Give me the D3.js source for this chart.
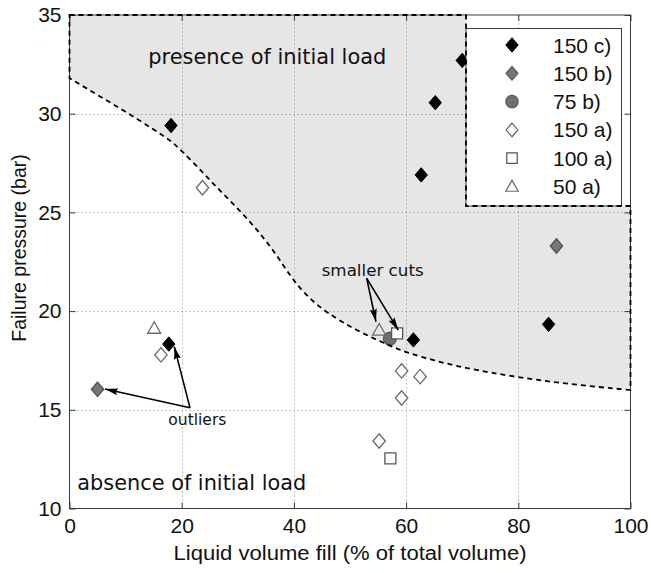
<!DOCTYPE html>
<html><head><meta charset="utf-8">
<script src="https://cdn.jsdelivr.net/npm/d3@7"></script>
<style>
html,body{margin:0;padding:0;background:#fff;}
svg{display:block;}
</style></head>
<body>
<svg id="chart" width="651" height="573"></svg>
<script>
// ---- data ----
const seriesNames = ["150 c)", "150 b)", "75 b)", "150 a)", "100 a)", "50 a)"];
const x150c = [18.1, 70.0, 65.2, 62.7, 17.7, 61.3, 85.4];
const y150c = [29.4, 32.7, 30.56, 26.9, 18.33, 18.54, 19.33];
const x150b = [5.0, 86.8];
const y150b = [16.04, 23.3];
const x75b = [57.1];
const y75b = [18.6];
const x150a = [23.7, 16.3, 59.2, 62.5, 59.2, 55.2];
const y150a = [26.25, 17.78, 16.97, 16.68, 15.6, 13.42];
const x100a = [57.2, 58.4];
const y100a = [12.54, 18.87];
const x50a = [15.1, 55.2];
const y50a = [19.13, 19.04];
// boundary curve between regions
const boundaryX = [0, 5, 10, 15, 17.9, 20, 23.85, 26.8, 30.7, 34.5, 37.5, 40, 42.9, 45.85, 51.2, 57.1, 60, 65, 70, 80, 90, 100];
const boundaryY = [31.8, 30.95, 30.1, 29.2, 28.67, 28.12, 27.0, 26.1, 25.0, 23.77, 22.6, 21.5, 20.6, 19.92, 19.0, 18.25, 17.9, 17.5, 17.14, 16.63, 16.27, 16.0];
const xTicks = [0, 20, 40, 60, 80, 100];
const yTicks = [10, 15, 20, 25, 30, 35];
const xLabel = "Liquid volume fill (% of total volume)";
const yLabel = "Failure pressure (bar)";

// ---- layout ----
const svg = d3.select("#chart");
const x = d3.scaleLinear().domain([0, 100]).range([69.5, 630.5]);
const y = d3.scaleLinear().domain([10, 35]).range([508.5, 15]);
const legBox = {x0: 466, x1: 621.5, y0: 28.5, y1: 206};

const seriesData = [
  {name: seriesNames[0], xs: x150c, ys: y150c, shape: "diamond", fill: "#000", stroke: "#000"},
  {name: seriesNames[1], xs: x150b, ys: y150b, shape: "diamond", fill: "#767676", stroke: "#555"},
  {name: seriesNames[2], xs: x75b, ys: y75b, shape: "circle", fill: "#707070", stroke: "#5a5a5a"},
  {name: seriesNames[3], xs: x150a, ys: y150a, shape: "diamond", fill: "#fff", stroke: "#6a6a6a"},
  {name: seriesNames[4], xs: x100a, ys: y100a, shape: "square", fill: "#fff", stroke: "#555"},
  {name: seriesNames[5], xs: x50a, ys: y50a, shape: "triangle", fill: "none", stroke: "#6a6a6a"}
];

function shapePath(shape) {
  if (shape === "diamond") return "M0,-7.2L6.2,0L0,7.2L-6.2,0Z";
  if (shape === "square") return "M-5.5,-5.5L5.5,-5.5L5.5,5.5L-5.5,5.5Z";
  if (shape === "triangle") return "M0,-6.5L6.5,5L-6.5,5Z";
  if (shape === "circle") return d3.symbol(d3.symbolCircle, 132)();
  return "";
}

// shaded region
const boundary = boundaryX.map((v, i) => [v, boundaryY[i]]);
const curveGen = d3.line().x(d => x(d[0])).y(d => y(d[1])).curve(d3.curveBasis);
const legLeft = x.invert(legBox.x0), legBottom = y.invert(legBox.y1);
const curveStr = curveGen(boundary.slice().reverse());
const regionPath = `M${x(0)},${y(35)}L${x(legLeft)},${y(35)}L${x(legLeft)},${y(legBottom)}L${x(100)},${y(legBottom)}L` +
  curveStr.slice(1) + "Z";
svg.append("path").attr("d", regionPath).attr("fill", "#e6e6e6").attr("stroke", "none");

// grid
const grid = svg.append("g").attr("stroke", "#8a8a8a").attr("stroke-width", 1).attr("stroke-dasharray", "1,3");
xTicks.slice(1, -1).forEach(t => grid.append("line").attr("x1", Math.round(x(t)) + 0.5).attr("x2", Math.round(x(t)) + 0.5).attr("y1", y(10)).attr("y2", y(35)));
yTicks.slice(1, -1).forEach(t => grid.append("line").attr("y1", Math.round(y(t)) + 0.5).attr("y2", Math.round(y(t)) + 0.5).attr("x1", x(0)).attr("x2", x(100)));

// axes frame
const frame = svg.append("g");
frame.append("rect").attr("x", x(0)).attr("y", y(35)).attr("width", x(100) - x(0)).attr("height", y(10) - y(35))
  .attr("fill", "none").attr("stroke", "#3a3a3a").attr("stroke-width", 1);
const xAxis = d3.axisBottom(x).tickValues(xTicks).tickSize(-6).tickPadding(10).tickFormat(d3.format("d"));
const yAxis = d3.axisLeft(y).tickValues(yTicks).tickSize(-6).tickPadding(8).tickFormat(d3.format("d"));
const gx = svg.append("g").attr("transform", `translate(0,${y(10)})`).call(xAxis);
const gy = svg.append("g").attr("transform", `translate(${x(0)},0)`).call(yAxis);
// mirrored ticks top/right
const gxt = svg.append("g").attr("transform", `translate(0,${y(35)})`).call(d3.axisTop(x).tickValues(xTicks).tickSize(-6).tickFormat(""));
const gyr = svg.append("g").attr("transform", `translate(${x(100)},0)`).call(d3.axisRight(y).tickValues(yTicks).tickSize(-6).tickFormat(""));
[gx, gy, gxt, gyr].forEach(g => {
  g.select(".domain").remove();
  g.selectAll(".tick line").attr("stroke", "#3a3a3a");
  g.selectAll(".tick text").attr("fill", "#111").attr("font-family", "Liberation Sans, Arial, sans-serif").attr("font-size", 21);
});
gx.selectAll(".tick text").attr("dy", "0.71em");

// data markers
const pts = svg.append("g");
seriesData.forEach(s => {
  s.xs.forEach((v, i) => {
    pts.append("path").attr("d", shapePath(s.shape))
      .attr("transform", `translate(${x(v)},${y(s.ys[i])})`)
      .attr("fill", s.fill).attr("stroke", s.stroke).attr("stroke-width", s.shape === "diamond" && s.fill === "#000" ? 1 : 1.3);
  });
});

// legend
const leg = svg.append("g");
leg.append("rect").attr("x", legBox.x0).attr("y", legBox.y0).attr("width", legBox.x1 - legBox.x0).attr("height", legBox.y1 - legBox.y0)
  .attr("fill", "#fff").attr("stroke", "#3a3a3a").attr("stroke-width", 1);
seriesData.forEach((s, i) => {
  const cy = 45 + i * 28.3;
  leg.append("path").attr("d", shapePath(s.shape)).attr("transform", `translate(512,${cy}) scale(0.95)`)
    .attr("fill", s.fill).attr("stroke", s.stroke).attr("stroke-width", 1.3);
  leg.append("text").attr("x", 553).attr("y", cy).attr("dy", "0.36em").text(s.name)
    .attr("font-family", "Liberation Sans, Arial, sans-serif").attr("font-size", 21).attr("fill", "#111");
});

// dashed outline of the region
svg.append("path").attr("d", regionPath).attr("fill", "none").attr("stroke", "#000")
  .attr("stroke-width", 1.8).attr("stroke-dasharray", "5,4");

// annotations
const defs = svg.append("defs");
defs.append("marker").attr("id", "ah").attr("viewBox", "0 -5 13 10").attr("refX", 13).attr("refY", 0)
  .attr("markerWidth", 13).attr("markerHeight", 10).attr("markerUnits", "userSpaceOnUse").attr("orient", "auto")
  .append("path").attr("d", "M0,-3.5L13,0L0,3.5L2,0Z").attr("fill", "#000");
const arrows = [
  [52.98, 21.66, 54.63, 19.46],
  [52.98, 21.66, 58.6, 19.04],
  [21.48, 15.1, 6.33, 16.05],
  [21.48, 15.1, 18.68, 18.2]
];
arrows.forEach(a => svg.append("line").attr("x1", x(a[0])).attr("y1", y(a[1])).attr("x2", x(a[2])).attr("y2", y(a[3]))
  .attr("stroke", "#000").attr("stroke-width", 1.6).attr("marker-end", "url(#ah)"));

const notes = [
  {t: "presence of initial load", vx: 14.05, vy: 32.5, size: 22, len: 238},
  {t: "absence of initial load", vx: 1.4, vy: 10.95, size: 22, len: 229},
  {t: "smaller cuts", vx: 44.95, vy: 21.77, size: 16.5, len: 102},
  {t: "outliers", vx: 17.62, vy: 14.23, size: 16, len: 58}
];
notes.forEach(n => svg.append("text").attr("x", x(n.vx)).attr("y", y(n.vy)).text(n.t)
  .attr("font-family", "DejaVu Sans, Verdana, sans-serif").attr("font-size", n.size).attr("fill", "#111")
  .attr("textLength", n.len).attr("lengthAdjust", "spacingAndGlyphs"));

// axis labels
svg.append("text").attr("x", (x(0) + x(100)) / 2).attr("y", 560).attr("text-anchor", "middle").text(xLabel)
  .attr("font-family", "Liberation Sans, Arial, sans-serif").attr("font-size", 20).attr("fill", "#111")
  .attr("textLength", 353).attr("lengthAdjust", "spacingAndGlyphs");
svg.append("text").attr("transform", "translate(26,248) rotate(-90)").attr("text-anchor", "middle").text(yLabel)
  .attr("font-family", "Liberation Sans, Arial, sans-serif").attr("font-size", 19.5).attr("fill", "#111");
</script>
</body></html>
